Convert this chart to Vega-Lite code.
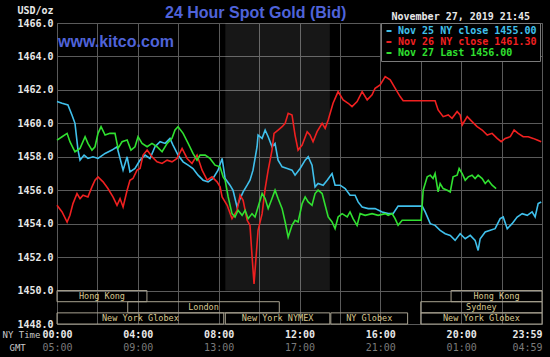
{
"$schema":"https://vega.github.io/schema/vega-lite/v6.json",
"width":485,"height":301,
"autosize":"none",
"padding":{"left":57,"top":23,"right":8,"bottom":33},
"background":"#000000",
"title":{"text":"24 Hour Spot Gold (Bid)","anchor":"start","frame":"group","dx":108,"offset":-16,"font":"Liberation Sans","fontSize":16,"fontWeight":"bold","color":"#4f63d9"},
"config":{"view":{"stroke":"#5a5a5a","strokeWidth":1},
"axis":{"labelFont":"DejaVu Sans Mono","labelFontSize":10,"labelFontWeight":"bold","labelColor":"#e8e8e8","titleFont":"DejaVu Sans Mono","titleFontSize":10,"titleFontWeight":"bold","titleColor":"#e8e8e8","gridColor":"#5a5a5a","gridOpacity":1,"tickSize":0,"domain":false}},
"datasets":{
"sessions":[
{"name":"Hong Kong","row":1,"start":0,"end":4.45},
{"name":"Hong Kong","row":1,"start":19.5,"end":24},
{"name":"London","row":2,"start":3.5,"end":11},
{"name":"Sydney","row":2,"start":18,"end":24},
{"name":"New York Globex","row":3,"start":0,"end":8.25},
{"name":"New York NYMEX","row":3,"start":8.33,"end":13.5},
{"name":"NY Globex","row":3,"start":13.55,"end":17.35},
{"name":"New York Globex","row":3,"start":18,"end":24}],
"prices":[
{"d":"Nov 25","h":0,"p":1461.3},{"d":"Nov 25","h":0.25,"p":1461.2},{"d":"Nov 25","h":0.54,"p":1461.1},{"d":"Nov 25","h":0.74,"p":1460.5},{"d":"Nov 25","h":0.89,"p":1460.0},{"d":"Nov 25","h":1.04,"p":1458.4},{"d":"Nov 25","h":1.14,"p":1457.8},{"d":"Nov 25","h":1.34,"p":1458.1},{"d":"Nov 25","h":1.53,"p":1457.9},{"d":"Nov 25","h":1.78,"p":1458.0},{"d":"Nov 25","h":2.03,"p":1457.9},{"d":"Nov 25","h":2.38,"p":1458.2},{"d":"Nov 25","h":2.72,"p":1458.4},{"d":"Nov 25","h":2.97,"p":1458.6},{"d":"Nov 25","h":3.12,"p":1457.9},{"d":"Nov 25","h":3.27,"p":1457.2},{"d":"Nov 25","h":3.47,"p":1458.0},{"d":"Nov 25","h":3.61,"p":1457.1},{"d":"Nov 25","h":3.86,"p":1457.3},{"d":"Nov 25","h":4.11,"p":1457.8},{"d":"Nov 25","h":4.36,"p":1458.1},{"d":"Nov 25","h":4.6,"p":1457.9},{"d":"Nov 25","h":4.85,"p":1458.6},{"d":"Nov 25","h":5.1,"p":1458.9},{"d":"Nov 25","h":5.35,"p":1458.8},{"d":"Nov 25","h":5.59,"p":1459.1},{"d":"Nov 25","h":5.74,"p":1458.7},{"d":"Nov 25","h":5.99,"p":1458.1},{"d":"Nov 25","h":6.24,"p":1457.7},{"d":"Nov 25","h":6.49,"p":1457.5},{"d":"Nov 25","h":6.73,"p":1457.3},{"d":"Nov 25","h":6.98,"p":1456.9},{"d":"Nov 25","h":7.23,"p":1456.6},{"d":"Nov 25","h":7.48,"p":1456.5},{"d":"Nov 25","h":7.72,"p":1456.7},{"d":"Nov 25","h":7.97,"p":1457.2},{"d":"Nov 25","h":8.17,"p":1457.9},{"d":"Nov 25","h":8.32,"p":1456.7},{"d":"Nov 25","h":8.56,"p":1456.3},{"d":"Nov 25","h":8.71,"p":1456.0},{"d":"Nov 25","h":8.91,"p":1455.0},{"d":"Nov 25","h":9.06,"p":1455.5},{"d":"Nov 25","h":9.21,"p":1455.9},{"d":"Nov 25","h":9.41,"p":1456.3},{"d":"Nov 25","h":9.55,"p":1456.6},{"d":"Nov 25","h":9.7,"p":1457.2},{"d":"Nov 25","h":9.9,"p":1458.6},{"d":"Nov 25","h":9.95,"p":1459.3},{"d":"Nov 25","h":10.15,"p":1459.1},{"d":"Nov 25","h":10.3,"p":1459.6},{"d":"Nov 25","h":10.45,"p":1459.2},{"d":"Nov 25","h":10.64,"p":1458.6},{"d":"Nov 25","h":10.79,"p":1458.8},{"d":"Nov 25","h":10.94,"p":1457.8},{"d":"Nov 25","h":11.14,"p":1457.4},{"d":"Nov 25","h":11.39,"p":1457.3},{"d":"Nov 25","h":11.63,"p":1457.2},{"d":"Nov 25","h":11.78,"p":1456.9},{"d":"Nov 25","h":12.03,"p":1457.3},{"d":"Nov 25","h":12.28,"p":1457.8},{"d":"Nov 25","h":12.43,"p":1458.0},{"d":"Nov 25","h":12.62,"p":1457.5},{"d":"Nov 25","h":12.77,"p":1456.2},{"d":"Nov 25","h":12.92,"p":1456.4},{"d":"Nov 25","h":13.17,"p":1456.3},{"d":"Nov 25","h":13.37,"p":1456.6},{"d":"Nov 25","h":13.61,"p":1457.0},{"d":"Nov 25","h":13.76,"p":1456.3},{"d":"Nov 25","h":14.01,"p":1456.3},{"d":"Nov 25","h":14.26,"p":1456.1},{"d":"Nov 25","h":14.5,"p":1455.7},{"d":"Nov 25","h":14.75,"p":1455.7},{"d":"Nov 25","h":14.9,"p":1455.3},{"d":"Nov 25","h":15.1,"p":1455.0},{"d":"Nov 25","h":15.4,"p":1454.9},{"d":"Nov 25","h":15.74,"p":1454.9},{"d":"Nov 25","h":16.09,"p":1454.7},{"d":"Nov 25","h":16.39,"p":1454.6},{"d":"Nov 25","h":16.63,"p":1454.6},{"d":"Nov 25","h":16.88,"p":1455.05},{"d":"Nov 25","h":17.48,"p":1455.05},{"d":"Nov 25","h":18.07,"p":1455.05},{"d":"Nov 25","h":18.22,"p":1454.7},{"d":"Nov 25","h":18.47,"p":1454.0},{"d":"Nov 25","h":18.71,"p":1453.9},{"d":"Nov 25","h":18.96,"p":1453.6},{"d":"Nov 25","h":19.21,"p":1453.4},{"d":"Nov 25","h":19.46,"p":1453.3},{"d":"Nov 25","h":19.7,"p":1453.0},{"d":"Nov 25","h":19.95,"p":1453.4},{"d":"Nov 25","h":20.2,"p":1453.1},{"d":"Nov 25","h":20.45,"p":1453.3},{"d":"Nov 25","h":20.69,"p":1453.0},{"d":"Nov 25","h":20.84,"p":1452.4},{"d":"Nov 25","h":20.94,"p":1453.1},{"d":"Nov 25","h":21.19,"p":1453.5},{"d":"Nov 25","h":21.44,"p":1453.6},{"d":"Nov 25","h":21.68,"p":1453.7},{"d":"Nov 25","h":21.93,"p":1454.3},{"d":"Nov 25","h":22.08,"p":1454.4},{"d":"Nov 25","h":22.28,"p":1453.7},{"d":"Nov 25","h":22.52,"p":1454.0},{"d":"Nov 25","h":22.77,"p":1454.4},{"d":"Nov 25","h":23.02,"p":1454.6},{"d":"Nov 25","h":23.27,"p":1454.5},{"d":"Nov 25","h":23.51,"p":1454.7},{"d":"Nov 25","h":23.66,"p":1454.4},{"d":"Nov 25","h":23.81,"p":1455.2},{"d":"Nov 25","h":23.96,"p":1455.3},
{"d":"Nov 26","h":0,"p":1455.1},{"d":"Nov 26","h":0.25,"p":1454.7},{"d":"Nov 26","h":0.5,"p":1454.1},{"d":"Nov 26","h":0.64,"p":1454.5},{"d":"Nov 26","h":0.79,"p":1455.2},{"d":"Nov 26","h":0.99,"p":1455.8},{"d":"Nov 26","h":1.14,"p":1455.5},{"d":"Nov 26","h":1.29,"p":1455.7},{"d":"Nov 26","h":1.53,"p":1455.6},{"d":"Nov 26","h":1.73,"p":1456.2},{"d":"Nov 26","h":1.88,"p":1456.6},{"d":"Nov 26","h":2.03,"p":1456.8},{"d":"Nov 26","h":2.28,"p":1456.5},{"d":"Nov 26","h":2.52,"p":1456.1},{"d":"Nov 26","h":2.77,"p":1455.6},{"d":"Nov 26","h":2.97,"p":1455.1},{"d":"Nov 26","h":3.12,"p":1455.5},{"d":"Nov 26","h":3.27,"p":1455.0},{"d":"Nov 26","h":3.47,"p":1456.0},{"d":"Nov 26","h":3.61,"p":1456.6},{"d":"Nov 26","h":3.76,"p":1456.7},{"d":"Nov 26","h":3.96,"p":1457.2},{"d":"Nov 26","h":4.11,"p":1457.3},{"d":"Nov 26","h":4.26,"p":1458.1},{"d":"Nov 26","h":4.46,"p":1458.4},{"d":"Nov 26","h":4.7,"p":1458.0},{"d":"Nov 26","h":4.95,"p":1457.7},{"d":"Nov 26","h":5.2,"p":1457.6},{"d":"Nov 26","h":5.45,"p":1457.8},{"d":"Nov 26","h":5.69,"p":1457.7},{"d":"Nov 26","h":5.94,"p":1457.9},{"d":"Nov 26","h":6.19,"p":1458.5},{"d":"Nov 26","h":6.44,"p":1457.9},{"d":"Nov 26","h":6.68,"p":1457.6},{"d":"Nov 26","h":6.93,"p":1458.1},{"d":"Nov 26","h":7.18,"p":1457.2},{"d":"Nov 26","h":7.43,"p":1456.6},{"d":"Nov 26","h":7.67,"p":1456.8},{"d":"Nov 26","h":7.92,"p":1456.5},{"d":"Nov 26","h":8.07,"p":1456.2},{"d":"Nov 26","h":8.17,"p":1455.6},{"d":"Nov 26","h":8.42,"p":1455.1},{"d":"Nov 26","h":8.66,"p":1454.3},{"d":"Nov 26","h":8.91,"p":1454.8},{"d":"Nov 26","h":9.06,"p":1455.7},{"d":"Nov 26","h":9.21,"p":1455.4},{"d":"Nov 26","h":9.41,"p":1454.2},{"d":"Nov 26","h":9.55,"p":1453.9},{"d":"Nov 26","h":9.65,"p":1452.1},{"d":"Nov 26","h":9.75,"p":1450.4},{"d":"Nov 26","h":9.85,"p":1452.0},{"d":"Nov 26","h":9.95,"p":1453.6},{"d":"Nov 26","h":10.15,"p":1454.6},{"d":"Nov 26","h":10.3,"p":1456.1},{"d":"Nov 26","h":10.45,"p":1457.2},{"d":"Nov 26","h":10.64,"p":1458.4},{"d":"Nov 26","h":10.74,"p":1459.4},{"d":"Nov 26","h":10.94,"p":1459.6},{"d":"Nov 26","h":11.14,"p":1459.8},{"d":"Nov 26","h":11.29,"p":1460.0},{"d":"Nov 26","h":11.44,"p":1460.6},{"d":"Nov 26","h":11.63,"p":1460.5},{"d":"Nov 26","h":11.78,"p":1459.3},{"d":"Nov 26","h":11.93,"p":1458.4},{"d":"Nov 26","h":12.13,"p":1458.7},{"d":"Nov 26","h":12.38,"p":1459.5},{"d":"Nov 26","h":12.52,"p":1459.3},{"d":"Nov 26","h":12.67,"p":1458.9},{"d":"Nov 26","h":12.87,"p":1459.5},{"d":"Nov 26","h":13.12,"p":1460.0},{"d":"Nov 26","h":13.27,"p":1459.7},{"d":"Nov 26","h":13.42,"p":1460.2},{"d":"Nov 26","h":13.66,"p":1461.2},{"d":"Nov 26","h":13.91,"p":1461.9},{"d":"Nov 26","h":14.16,"p":1461.4},{"d":"Nov 26","h":14.41,"p":1461.2},{"d":"Nov 26","h":14.6,"p":1461.0},{"d":"Nov 26","h":14.85,"p":1461.3},{"d":"Nov 26","h":15.1,"p":1461.9},{"d":"Nov 26","h":15.35,"p":1461.4},{"d":"Nov 26","h":15.59,"p":1461.7},{"d":"Nov 26","h":15.74,"p":1462.1},{"d":"Nov 26","h":15.99,"p":1462.3},{"d":"Nov 26","h":16.24,"p":1462.8},{"d":"Nov 26","h":16.49,"p":1462.6},{"d":"Nov 26","h":16.73,"p":1462.1},{"d":"Nov 26","h":16.98,"p":1461.6},{"d":"Nov 26","h":17.13,"p":1461.35},{"d":"Nov 26","h":18.71,"p":1461.35},{"d":"Nov 26","h":18.86,"p":1460.8},{"d":"Nov 26","h":19.11,"p":1460.4},{"d":"Nov 26","h":19.36,"p":1460.5},{"d":"Nov 26","h":19.55,"p":1460.3},{"d":"Nov 26","h":19.8,"p":1460.7},{"d":"Nov 26","h":19.95,"p":1460.5},{"d":"Nov 26","h":20.05,"p":1459.9},{"d":"Nov 26","h":20.3,"p":1460.4},{"d":"Nov 26","h":20.54,"p":1460.1},{"d":"Nov 26","h":20.79,"p":1459.8},{"d":"Nov 26","h":21.04,"p":1459.6},{"d":"Nov 26","h":21.29,"p":1459.3},{"d":"Nov 26","h":21.53,"p":1459.4},{"d":"Nov 26","h":21.78,"p":1459.1},{"d":"Nov 26","h":21.98,"p":1458.9},{"d":"Nov 26","h":22.18,"p":1459.1},{"d":"Nov 26","h":22.43,"p":1459.2},{"d":"Nov 26","h":22.62,"p":1459.6},{"d":"Nov 26","h":22.82,"p":1459.4},{"d":"Nov 26","h":23.07,"p":1459.2},{"d":"Nov 26","h":23.32,"p":1459.2},{"d":"Nov 26","h":23.56,"p":1459.1},{"d":"Nov 26","h":23.76,"p":1459.0},{"d":"Nov 26","h":23.96,"p":1458.9},
{"d":"Nov 27","h":0,"p":1459.0},{"d":"Nov 27","h":0.25,"p":1459.2},{"d":"Nov 27","h":0.5,"p":1459.4},{"d":"Nov 27","h":0.64,"p":1458.9},{"d":"Nov 27","h":0.89,"p":1458.3},{"d":"Nov 27","h":1.14,"p":1458.5},{"d":"Nov 27","h":1.39,"p":1459.2},{"d":"Nov 27","h":1.53,"p":1458.8},{"d":"Nov 27","h":1.73,"p":1458.4},{"d":"Nov 27","h":1.88,"p":1458.6},{"d":"Nov 27","h":2.03,"p":1459.4},{"d":"Nov 27","h":2.18,"p":1459.8},{"d":"Nov 27","h":2.38,"p":1459.3},{"d":"Nov 27","h":2.62,"p":1459.4},{"d":"Nov 27","h":2.87,"p":1459.4},{"d":"Nov 27","h":3.02,"p":1458.5},{"d":"Nov 27","h":3.22,"p":1458.9},{"d":"Nov 27","h":3.47,"p":1459.0},{"d":"Nov 27","h":3.66,"p":1458.4},{"d":"Nov 27","h":3.86,"p":1458.6},{"d":"Nov 27","h":4.01,"p":1459.2},{"d":"Nov 27","h":4.21,"p":1458.8},{"d":"Nov 27","h":4.46,"p":1458.6},{"d":"Nov 27","h":4.7,"p":1458.8},{"d":"Nov 27","h":4.95,"p":1458.6},{"d":"Nov 27","h":5.2,"p":1458.3},{"d":"Nov 27","h":5.45,"p":1458.8},{"d":"Nov 27","h":5.69,"p":1459.1},{"d":"Nov 27","h":5.84,"p":1459.6},{"d":"Nov 27","h":5.99,"p":1459.8},{"d":"Nov 27","h":6.24,"p":1459.4},{"d":"Nov 27","h":6.49,"p":1458.8},{"d":"Nov 27","h":6.73,"p":1458.2},{"d":"Nov 27","h":6.93,"p":1457.8},{"d":"Nov 27","h":7.08,"p":1458.1},{"d":"Nov 27","h":7.33,"p":1458.1},{"d":"Nov 27","h":7.57,"p":1457.9},{"d":"Nov 27","h":7.82,"p":1457.5},{"d":"Nov 27","h":8.07,"p":1457.4},{"d":"Nov 27","h":8.22,"p":1456.8},{"d":"Nov 27","h":8.32,"p":1456.6},{"d":"Nov 27","h":8.47,"p":1455.6},{"d":"Nov 27","h":8.66,"p":1454.6},{"d":"Nov 27","h":8.81,"p":1454.4},{"d":"Nov 27","h":8.96,"p":1454.8},{"d":"Nov 27","h":9.16,"p":1454.5},{"d":"Nov 27","h":9.31,"p":1454.8},{"d":"Nov 27","h":9.46,"p":1454.3},{"d":"Nov 27","h":9.65,"p":1454.6},{"d":"Nov 27","h":9.8,"p":1454.4},{"d":"Nov 27","h":9.95,"p":1455.0},{"d":"Nov 27","h":10.15,"p":1455.8},{"d":"Nov 27","h":10.3,"p":1455.5},{"d":"Nov 27","h":10.45,"p":1454.9},{"d":"Nov 27","h":10.64,"p":1455.5},{"d":"Nov 27","h":10.79,"p":1456.0},{"d":"Nov 27","h":10.94,"p":1455.5},{"d":"Nov 27","h":11.14,"p":1454.9},{"d":"Nov 27","h":11.29,"p":1454.1},{"d":"Nov 27","h":11.44,"p":1453.2},{"d":"Nov 27","h":11.63,"p":1453.9},{"d":"Nov 27","h":11.78,"p":1454.2},{"d":"Nov 27","h":11.93,"p":1454.1},{"d":"Nov 27","h":12.13,"p":1455.2},{"d":"Nov 27","h":12.28,"p":1455.6},{"d":"Nov 27","h":12.43,"p":1455.3},{"d":"Nov 27","h":12.62,"p":1455.1},{"d":"Nov 27","h":12.77,"p":1455.8},{"d":"Nov 27","h":12.92,"p":1456.0},{"d":"Nov 27","h":13.12,"p":1455.8},{"d":"Nov 27","h":13.27,"p":1455.1},{"d":"Nov 27","h":13.42,"p":1454.4},{"d":"Nov 27","h":13.61,"p":1454.1},{"d":"Nov 27","h":13.76,"p":1453.7},{"d":"Nov 27","h":13.91,"p":1454.4},{"d":"Nov 27","h":14.11,"p":1454.6},{"d":"Nov 27","h":14.36,"p":1454.4},{"d":"Nov 27","h":14.5,"p":1454.7},{"d":"Nov 27","h":14.65,"p":1454.3},{"d":"Nov 27","h":14.85,"p":1453.9},{"d":"Nov 27","h":15.0,"p":1454.6},{"d":"Nov 27","h":15.25,"p":1454.5},{"d":"Nov 27","h":15.59,"p":1454.6},{"d":"Nov 27","h":15.89,"p":1454.5},{"d":"Nov 27","h":16.24,"p":1454.6},{"d":"Nov 27","h":16.39,"p":1454.5},{"d":"Nov 27","h":16.58,"p":1454.6},{"d":"Nov 27","h":16.73,"p":1454.3},{"d":"Nov 27","h":16.88,"p":1453.9},{"d":"Nov 27","h":17.08,"p":1454.2},{"d":"Nov 27","h":18.02,"p":1454.2},{"d":"Nov 27","h":18.12,"p":1456.0},{"d":"Nov 27","h":18.32,"p":1456.8},{"d":"Nov 27","h":18.47,"p":1456.9},{"d":"Nov 27","h":18.61,"p":1456.7},{"d":"Nov 27","h":18.71,"p":1457.0},{"d":"Nov 27","h":18.86,"p":1455.9},{"d":"Nov 27","h":18.96,"p":1456.4},{"d":"Nov 27","h":19.11,"p":1456.1},{"d":"Nov 27","h":19.31,"p":1456.0},{"d":"Nov 27","h":19.46,"p":1455.9},{"d":"Nov 27","h":19.6,"p":1456.8},{"d":"Nov 27","h":19.8,"p":1456.9},{"d":"Nov 27","h":19.9,"p":1457.3},{"d":"Nov 27","h":20.05,"p":1457.0},{"d":"Nov 27","h":20.2,"p":1456.6},{"d":"Nov 27","h":20.35,"p":1456.8},{"d":"Nov 27","h":20.54,"p":1456.9},{"d":"Nov 27","h":20.69,"p":1456.7},{"d":"Nov 27","h":20.84,"p":1456.9},{"d":"Nov 27","h":21.04,"p":1456.7},{"d":"Nov 27","h":21.19,"p":1456.4},{"d":"Nov 27","h":21.34,"p":1456.6},{"d":"Nov 27","h":21.53,"p":1456.3},{"d":"Nov 27","h":21.73,"p":1456.1}
]},
"layer":[
{"data":{"name":"sessions"},
 "transform":[{"filter":"datum.name == 'New York NYMEX'"}],
 "mark":{"type":"rect","fill":"#ffffff","opacity":0.09},
 "encoding":{
  "x":{"field":"start","type":"quantitative","scale":{"domain":[0,24],"nice":false,"zero":false},"axis":null},
  "x2":{"field":"end"},
  "y":{"datum":1450,"type":"quantitative","scale":{"domain":[1448,1466],"nice":false,"zero":false},"axis":null},
  "y2":{"datum":1466}}},
{"data":{"name":"sessions"},
 "transform":[{"calculate":"1450 - (datum.row - 1) * 0.667","as":"yt"},{"calculate":"1450 - datum.row * 0.667","as":"yb"}],
 "mark":{"type":"rect","fill":"transparent","stroke":"#a8a290","strokeWidth":1},
 "encoding":{
  "x":{"field":"start","type":"quantitative","axis":{"orient":"top","labels":false,"ticks":false,"grid":false,"domain":false,"title":"November 27, 2019 21:45","titleX":334,"titleY":-7,"titleAlign":"left","titleAnchor":null,"titleBaseline":"middle"}},
  "x2":{"field":"end"},
  "y":{"field":"yt","type":"quantitative","axis":null},
  "y2":{"field":"yb"}}},
{"data":{"name":"sessions"},
 "transform":[{"calculate":"(datum.start + datum.end) / 2","as":"mid"},{"calculate":"1450 - (datum.row - 0.5) * 0.667","as":"yc"}],
 "mark":{"type":"text","font":"DejaVu Sans Mono","fontSize":8.5,"color":"#d8c890","baseline":"middle","align":"center"},
 "encoding":{
  "x":{"field":"mid","type":"quantitative","axis":{"values":[0,4,8,12,16,20,24],"grid":false,"labelFlush":false,"labelPadding":18,"labelFontWeight":"normal","labelColor":"#7a7a7a","labelExpr":"datum.value == 24 ? '04:59' : (((datum.value + 5) % 24) < 10 ? '0' : '') + ((datum.value + 5) % 24) + ':00'","labelAlign":{"condition":{"test":"datum.value == 24","value":"right"},"value":"center"},"title":"GMT","titleX":-48,"titleY":23,"titleAlign":"left","titleAnchor":null,"titleBaseline":"middle","titleFontSize":9,"titleFontWeight":"normal","titleColor":"#c8c8c8"}},
  "y":{"field":"yc","type":"quantitative","axis":null},
  "text":{"field":"name"}}},
{"data":{"name":"prices"},
 "mark":{"type":"line","strokeWidth":1.6},
 "encoding":{
  "x":{"field":"h","type":"quantitative","axis":{"values":[0,2,4,6,8,10,12,14,16,18,20,22,24],"grid":true,"labelFlush":false,"labelPadding":5,"labelExpr":"datum.value == 24 ? '23:59' : (datum.value % 4 == 0 ? (datum.value < 10 ? '0' : '') + datum.value + ':00' : '')","labelAlign":{"condition":{"test":"datum.value == 24","value":"right"},"value":"center"},"title":"NY Time","titleX":-55,"titleY":10,"titleAlign":"left","titleAnchor":null,"titleBaseline":"middle","titleFontSize":9,"titleFontWeight":"normal","titleColor":"#c8c8c8"}},
  "y":{"field":"p","type":"quantitative","axis":{"orient":"left","values":[1448,1450,1452,1454,1456,1458,1460,1462,1464,1466],"format":".1f","grid":true,"gridColor":"#5a5a5a","labelOverlap":false,"labelFlush":false,"labelPadding":4,"title":"USD/oz","titleAngle":0,"titleX":-4,"titleY":-13,"titleAlign":"right","titleAnchor":null,"titleBaseline":"middle"}},
  "color":{"field":"d","type":"nominal","scale":{"domain":["Nov 25","Nov 26","Nov 27"],"range":["#40c0ec","#f02020","#30e030"]},
   "legend":{"orient":"none","legendX":324,"legendY":0,"title":null,"direction":"vertical","symbolType":"stroke","symbolSize":25,"symbolStrokeWidth":2,"labelFont":"DejaVu Sans Mono","labelFontSize":10,"labelFontWeight":"bold","labelOffset":4,"rowPadding":1,"padding":3,"fillColor":"#000000","strokeColor":"#7a7a7a",
    "labelExpr":"datum.label == 'Nov 25' ? 'Nov 25 NY close 1455.00' : (datum.label == 'Nov 26' ? 'Nov 26 NY close 1461.30' : 'Nov 27 Last 1456.00')",
    "encode":{"labels":{"update":{"fill":{"scale":"color","field":"value"}}}}}}}},
{"data":{"values":[{"t":"www.kitco.com"}]},
 "mark":{"type":"text","font":"Liberation Sans","fontSize":16,"fontWeight":"bold","color":"#4f63d9","align":"left","baseline":"middle"},
 "encoding":{
  "x":{"datum":0.05,"type":"quantitative","axis":null},
  "y":{"datum":1464.86,"type":"quantitative","axis":null},
  "text":{"field":"t"}}}
],
"resolve":{"axis":{"x":"independent","y":"independent"}}
}
